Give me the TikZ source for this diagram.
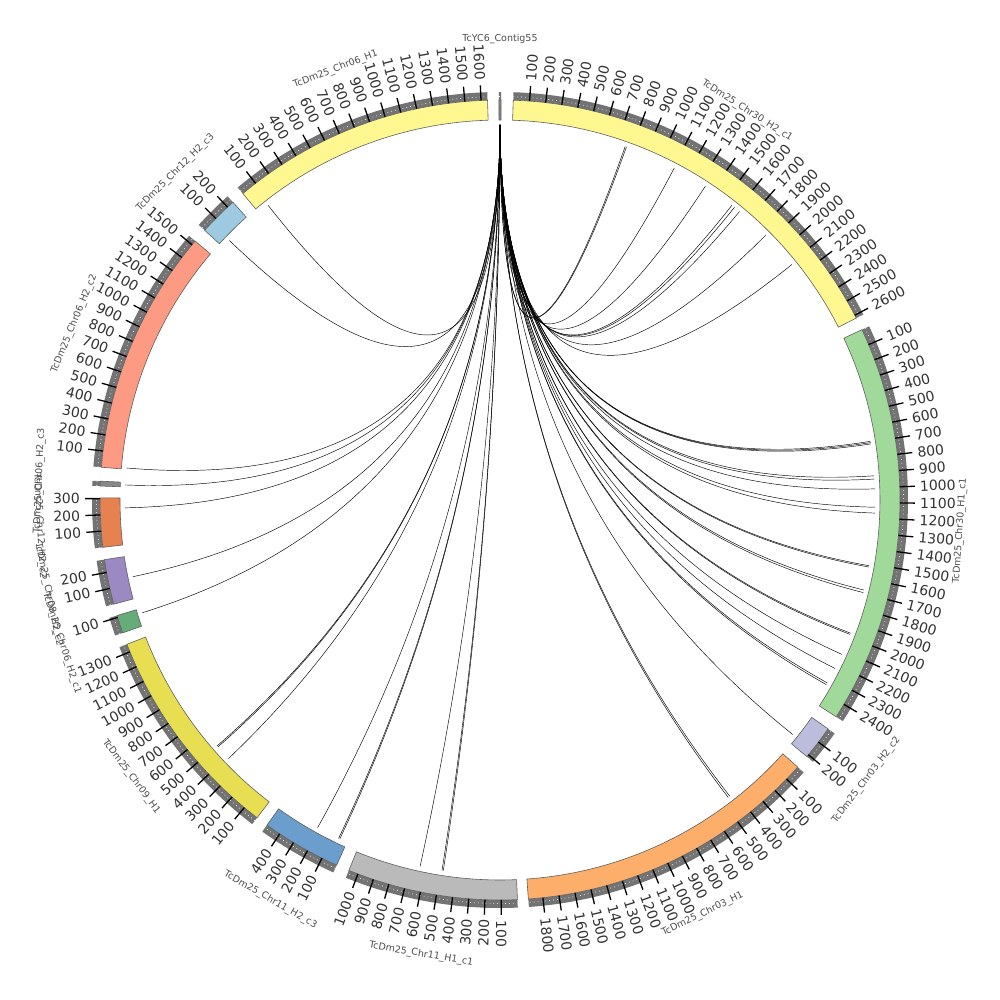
\documentclass[tikz,border=0pt]{standalone}
\usepackage{fontspec}
\newfontfamily\circfont{DejaVu Sans}
\usetikzlibrary{calc}

\definecolor{chrYa}{RGB}{255,247,143}
\definecolor{chrGr}{RGB}{161,217,155}
\definecolor{chrLv}{RGB}{188,189,220}
\definecolor{chrOr}{RGB}{253,174,107}
\definecolor{chrGy}{RGB}{186,186,186}
\definecolor{chrBl}{RGB}{107,158,205}
\definecolor{chrMu}{RGB}{232,222,82}
\definecolor{chrSg}{RGB}{102,172,120}
\definecolor{chrPu}{RGB}{155,137,195}
\definecolor{chrRo}{RGB}{230,130,80}
\definecolor{chrTg}{RGB}{136,136,136}
\definecolor{chrSa}{RGB}{252,154,132}
\definecolor{chrLb}{RGB}{158,202,225}

\tikzset{
  band/.style={draw=gray!75!black, line width=0.6pt},
  scalebar/.style={fill=black!55},
  scaledots/.style={draw=white, line width=0.7pt, dash pattern=on 0.7pt off 3.2pt},
  majtick/.style={draw=black, line width=1.3pt},
  ticklbl/.style={font=\circfont\fontsize{14}{14}\selectfont, text=black!80, inner sep=0pt},
  seglbl/.style={font=\circfont\fontsize{9.5}{10}\selectfont, text=black!70, inner sep=0pt},
  link/.style={draw=black, line width=0.45pt},
}
\newcommand{\degunit}{0.0233}

\begin{document}
\begin{tikzpicture}[x=1pt,y=1pt]
  \useasboundingbox (-500,-500) rectangle (500,500);

  % segments: start angle / length / colour / name
  \foreach \st/\len/\col/\nm in {
      90.15/13/chrTg/TcYC6\_Contig55,
      88.1/2620/chrYa/TcDm25\_Chr30\_H2\_c1,
      25.2/2490/chrGr/TcDm25\_Chr30\_H1\_c1,
      -34.9/215/chrLv/TcDm25\_Chr03\_H2\_c2,
      -41.9/1890/chrOr/TcDm25\_Chr03\_H1,
      -87.5/1060/chrGy/TcDm25\_Chr11\_H1\_c1,
      -114.1/495/chrBl/TcDm25\_Chr11\_H2\_c3,
      -127.4/1350/chrMu/TcDm25\_Chr09\_H1,
      -160.6/112/chrSg/TcDm25\_Chr06\_H2\_c1,
      -164.9/280/chrPu/TcDm25\_Chr08\_H2\_c2,
      -173.2/305/chrRo/TcDm25\_Chr12\_H2\_c2,
      -182.0/30/chrTg/TcDm25\_Chr06\_H2\_c3,
      -184.7/1530/chrSa/TcDm25\_Chr06\_H2\_c2,
      -222.4/245/chrLb/TcDm25\_Chr12\_H2\_c3,
      -230.0/1640/chrYa/TcDm25\_Chr06\_H1}{
    \pgfmathsetmacro\en{\st-\len*\degunit}
    \pgfmathsetmacro\md{(\st+\en)/2}
    \pgfmathsetmacro\rot{ifthenelse(sin(\md)>=0,\md-90,\md+90)}
    \path[scalebar] (\st:400) arc[start angle=\st, end angle=\en, radius=400]
      -- (\en:408) arc[start angle=\en, end angle=\st, radius=408] -- cycle;
    \path[scaledots] (\st:403.5) arc[start angle=\st, end angle=\en, radius=403.5];
    \path[band, fill=\col] (\st:380) arc[start angle=\st, end angle=\en, radius=380]
      -- (\en:400) arc[start angle=\en, end angle=\st, radius=400] -- cycle;
    \node[seglbl, rotate=\rot] (name) at (\md:461) {\nm};
    \pgfmathtruncatemacro\nt{\len/100}
    \ifnum\nt>0
      \foreach \k in {1,...,\nt}{
        \pgfmathsetmacro\ta{\st-\k*100*\degunit}
        \pgfmathtruncatemacro\val{\k*100}
        \pgfmathtruncatemacro\rside{cos(\ta)>0}
        \path[majtick] (\ta:400) -- (\ta:415);
        \ifnum\rside=1
          \node[ticklbl, rotate=\ta, anchor=west] (tk) at (\ta:420) {\val};
        \else
          \node[ticklbl, rotate=\ta+180, anchor=east] (tk) at (\ta:420) {\val};
        \fi
      }
    \fi
  }

  % links from the contig
  \coordinate (src) at (90:375);
  \foreach \a in {70.5,70.3,62.3,56.8,51.8,51.3,50.3,44.9,38.9,
      9.0,8.8,8.6,3.7,3.2,1.7,-1.1,-2.0,-10.1,-10.3,-13.9,-14.3,
      -20.8,-21.0,-24.3,-26.7,-29.2,-29.5,-38.7,-52.2,-52.5,
      -98.7,-98.9,-102.3,-115.3,-115.5,-119.1,-136.4,-138.8,-139.0,
      -162.5,-168.2,-178.8,-182.3,-184.9,-223.8,-231.8}{
    \coordinate (dst) at (\a:375);
    \path[link] (src) .. controls (90:125) and (\a:125) .. (dst);
  }

\end{tikzpicture}
\end{document}
